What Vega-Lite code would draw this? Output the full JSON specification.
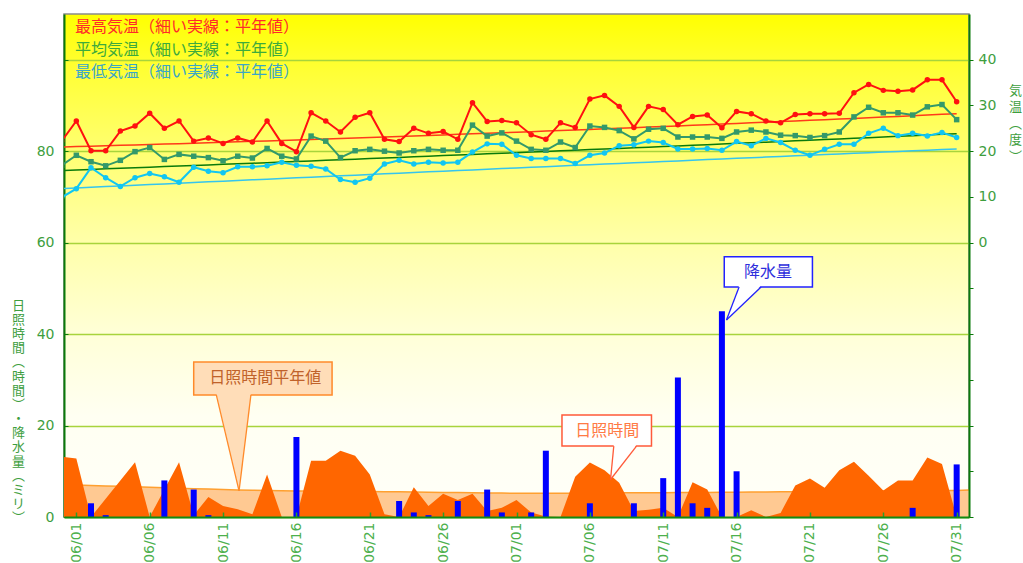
{
  "$schema": "https://vega.github.io/schema/vega-lite/v6.json",
  "width": 905,
  "height": 503,
  "autosize": {"type": "none"},
  "padding": {"left": 64, "top": 14, "right": 54, "bottom": 46},
  "background": "#FFFFFF",
  "config": {
    "font": "Noto Sans CJK JP",
    "view": {
      "stroke": "#8A8A8A",
      "strokeWidth": 1.5,
      "fill": {
        "gradient": "linear", "x1": 0, "y1": 0, "x2": 0, "y2": 1,
        "stops": [
          {"offset": 0, "color": "#FFFF00"},
          {"offset": 0.1, "color": "#FFFF30"},
          {"offset": 0.27, "color": "#FFFF70"},
          {"offset": 0.45, "color": "#FFFFA8"},
          {"offset": 0.64, "color": "#FFFFD8"},
          {"offset": 0.8, "color": "#FFFFF2"},
          {"offset": 1, "color": "#FFFFF8"}
        ]
      }
    }
  },
  "datasets": {
    "daily": [
      {"day": -1, "最高気温": 22.2, "平均気温": 16.9, "最低気温": 9.9, "maxNormal": 20.91, "meanNormal": 15.78, "minNormal": 11.8, "sun": 13.2, "sunNormal": 7.1},
      {"day": 0, "最高気温": 26.6, "平均気温": 19.1, "最低気温": 11.8, "maxNormal": 21.0, "meanNormal": 15.9, "minNormal": 11.95, "sun": 12.8, "sunNormal": 7.0},
      {"day": 1, "最高気温": 20.1, "平均気温": 17.7, "最低気温": 16.4, "maxNormal": 21.09, "meanNormal": 16.02, "minNormal": 12.1, "sun": 0.0, "sunNormal": 6.9, "rain": 3.0},
      {"day": 2, "最高気温": 20.1, "平均気温": 16.8, "最低気温": 14.2, "maxNormal": 21.18, "meanNormal": 16.14, "minNormal": 12.25, "sun": 4.0, "sunNormal": 6.8, "rain": 0.4},
      {"day": 3, "最高気温": 24.4, "平均気温": 18.0, "最低気温": 12.3, "maxNormal": 21.27, "meanNormal": 16.26, "minNormal": 12.4, "sun": 8.0, "sunNormal": 6.7},
      {"day": 4, "最高気温": 25.5, "平均気温": 19.9, "最低気温": 14.2, "maxNormal": 21.37, "meanNormal": 16.38, "minNormal": 12.55, "sun": 12.0, "sunNormal": 6.6},
      {"day": 5, "最高気温": 28.3, "平均気温": 20.8, "最低気温": 15.1, "maxNormal": 21.46, "meanNormal": 16.51, "minNormal": 12.7, "sun": 0.0, "sunNormal": 6.5},
      {"day": 6, "最高気温": 25.0, "平均気温": 18.2, "最低気温": 14.4, "maxNormal": 21.56, "meanNormal": 16.63, "minNormal": 12.85, "sun": 6.0, "sunNormal": 6.4, "rain": 8.0},
      {"day": 7, "最高気温": 26.6, "平均気温": 19.3, "最低気温": 13.2, "maxNormal": 21.65, "meanNormal": 16.75, "minNormal": 12.99, "sun": 12.0, "sunNormal": 6.3},
      {"day": 8, "最高気温": 22.2, "平均気温": 18.9, "最低気温": 16.5, "maxNormal": 21.75, "meanNormal": 16.87, "minNormal": 13.14, "sun": 0.4, "sunNormal": 6.2, "rain": 6.0},
      {"day": 9, "最高気温": 22.9, "平均気温": 18.6, "最低気温": 15.6, "maxNormal": 21.85, "meanNormal": 17.0, "minNormal": 13.29, "sun": 4.4, "sunNormal": 6.1, "rain": 0.4},
      {"day": 10, "最高気温": 21.7, "平均気温": 17.9, "最低気温": 15.3, "maxNormal": 21.95, "meanNormal": 17.12, "minNormal": 13.44, "sun": 2.4, "sunNormal": 6.0},
      {"day": 11, "最高気温": 22.9, "平均気温": 18.9, "最低気温": 16.6, "maxNormal": 22.05, "meanNormal": 17.24, "minNormal": 13.59, "sun": 1.7, "sunNormal": 5.9},
      {"day": 12, "最高気温": 22.0, "平均気温": 18.5, "最低気温": 16.6, "maxNormal": 22.15, "meanNormal": 17.37, "minNormal": 13.73, "sun": 0.6, "sunNormal": 5.85},
      {"day": 13, "最高気温": 26.6, "平均気温": 20.6, "最低気温": 16.8, "maxNormal": 22.25, "meanNormal": 17.49, "minNormal": 13.88, "sun": 9.3, "sunNormal": 5.8},
      {"day": 14, "最高気温": 21.7, "平均気温": 18.9, "最低気温": 17.6, "maxNormal": 22.36, "meanNormal": 17.62, "minNormal": 14.02, "sun": 0.0, "sunNormal": 5.75},
      {"day": 15, "最高気温": 19.9, "平均気温": 18.3, "最低気温": 16.9, "maxNormal": 22.46, "meanNormal": 17.75, "minNormal": 14.17, "sun": 0.0, "sunNormal": 5.7, "rain": 17.5},
      {"day": 16, "最高気温": 28.4, "平均気温": 23.3, "最低気温": 16.7, "maxNormal": 22.57, "meanNormal": 17.87, "minNormal": 14.32, "sun": 12.3, "sunNormal": 5.68},
      {"day": 17, "最高気温": 26.6, "平均気温": 22.2, "最低気温": 16.1, "maxNormal": 22.68, "meanNormal": 18.0, "minNormal": 14.46, "sun": 12.3, "sunNormal": 5.65},
      {"day": 18, "最高気温": 24.2, "平均気温": 18.6, "最低気温": 13.8, "maxNormal": 22.78, "meanNormal": 18.12, "minNormal": 14.61, "sun": 14.5, "sunNormal": 5.62},
      {"day": 19, "最高気温": 27.4, "平均気温": 20.1, "最低気温": 13.2, "maxNormal": 22.89, "meanNormal": 18.25, "minNormal": 14.75, "sun": 13.4, "sunNormal": 5.6},
      {"day": 20, "最高気温": 28.4, "平均気温": 20.4, "最低気温": 14.1, "maxNormal": 23.0, "meanNormal": 18.38, "minNormal": 14.9, "sun": 9.3, "sunNormal": 5.55},
      {"day": 21, "最高気温": 22.6, "平均気温": 20.0, "最低気温": 17.2, "maxNormal": 23.11, "meanNormal": 18.51, "minNormal": 15.04, "sun": 0.6, "sunNormal": 5.52},
      {"day": 22, "最高気温": 22.1, "平均気温": 19.6, "最低気温": 18.0, "maxNormal": 23.22, "meanNormal": 18.64, "minNormal": 15.19, "sun": 0.0, "sunNormal": 5.5, "rain": 3.5},
      {"day": 23, "最高気温": 25.0, "平均気温": 20.1, "最低気温": 17.2, "maxNormal": 23.33, "meanNormal": 18.77, "minNormal": 15.33, "sun": 6.5, "sunNormal": 5.46, "rain": 1.0},
      {"day": 24, "最高気温": 23.9, "平均気温": 20.4, "最低気温": 17.6, "maxNormal": 23.45, "meanNormal": 18.9, "minNormal": 15.48, "sun": 2.4, "sunNormal": 5.42, "rain": 0.4},
      {"day": 25, "最高気温": 24.3, "平均気温": 20.2, "最低気温": 17.4, "maxNormal": 23.56, "meanNormal": 19.03, "minNormal": 15.62, "sun": 5.1, "sunNormal": 5.38},
      {"day": 26, "最高気温": 22.6, "平均気温": 20.2, "最低気温": 17.6, "maxNormal": 23.68, "meanNormal": 19.16, "minNormal": 15.76, "sun": 3.7, "sunNormal": 5.35, "rain": 3.5},
      {"day": 27, "最高気温": 30.6, "平均気温": 25.7, "最低気温": 19.8, "maxNormal": 23.79, "meanNormal": 19.29, "minNormal": 15.91, "sun": 5.1, "sunNormal": 5.3},
      {"day": 28, "最高気温": 26.5, "平均気温": 23.3, "最低気温": 21.6, "maxNormal": 23.91, "meanNormal": 19.42, "minNormal": 16.05, "sun": 1.3, "sunNormal": 5.27, "rain": 6.0},
      {"day": 29, "最高気温": 26.7, "平均気温": 24.0, "最低気温": 21.5, "maxNormal": 24.03, "meanNormal": 19.55, "minNormal": 16.19, "sun": 2.0, "sunNormal": 5.23, "rain": 1.0},
      {"day": 30, "最高気温": 26.2, "平均気温": 22.2, "最低気温": 19.1, "maxNormal": 24.15, "meanNormal": 19.68, "minNormal": 16.33, "sun": 3.7, "sunNormal": 5.2},
      {"day": 31, "最高気温": 23.6, "平均気温": 20.4, "最低気温": 18.4, "maxNormal": 24.27, "meanNormal": 19.81, "minNormal": 16.48, "sun": 1.0, "sunNormal": 5.2, "rain": 1.0},
      {"day": 32, "最高気温": 22.6, "平均気温": 20.2, "最低気温": 18.4, "maxNormal": 24.39, "meanNormal": 19.94, "minNormal": 16.62, "sun": 0.1, "sunNormal": 5.2, "rain": 14.5},
      {"day": 33, "最高気温": 26.2, "平均気温": 22.0, "最低気温": 18.4, "maxNormal": 24.51, "meanNormal": 20.08, "minNormal": 16.76, "sun": 0.0, "sunNormal": 5.2},
      {"day": 34, "最高気温": 25.2, "平均気温": 20.8, "最低気温": 17.3, "maxNormal": 24.64, "meanNormal": 20.21, "minNormal": 16.9, "sun": 8.8, "sunNormal": 5.22},
      {"day": 35, "最高気温": 31.4, "平均気温": 25.5, "最低気温": 19.1, "maxNormal": 24.76, "meanNormal": 20.35, "minNormal": 17.04, "sun": 11.9, "sunNormal": 5.24, "rain": 3.0},
      {"day": 36, "最高気温": 32.2, "平均気温": 25.2, "最低気温": 19.6, "maxNormal": 24.89, "meanNormal": 20.48, "minNormal": 17.18, "sun": 10.2, "sunNormal": 5.26},
      {"day": 37, "最高気温": 29.8, "平均気温": 24.5, "最低気温": 21.2, "maxNormal": 25.01, "meanNormal": 20.61, "minNormal": 17.32, "sun": 7.5, "sunNormal": 5.28},
      {"day": 38, "最高気温": 25.2, "平均気温": 22.7, "最低気温": 21.4, "maxNormal": 25.14, "meanNormal": 20.75, "minNormal": 17.46, "sun": 1.3, "sunNormal": 5.3, "rain": 3.0},
      {"day": 39, "最高気温": 29.8, "平均気温": 24.8, "最低気温": 22.2, "maxNormal": 25.27, "meanNormal": 20.88, "minNormal": 17.6, "sun": 1.6, "sunNormal": 5.3},
      {"day": 40, "最高気温": 29.1, "平均気温": 25.0, "最低気温": 21.9, "maxNormal": 25.4, "meanNormal": 21.02, "minNormal": 17.74, "sun": 2.0, "sunNormal": 5.32, "rain": 8.5},
      {"day": 41, "最高気温": 25.8, "平均気温": 23.1, "最低気温": 20.5, "maxNormal": 25.53, "meanNormal": 21.16, "minNormal": 17.88, "sun": 0.0, "sunNormal": 5.34, "rain": 30.5},
      {"day": 42, "最高気温": 27.6, "平均気温": 23.1, "最低気温": 20.5, "maxNormal": 25.66, "meanNormal": 21.29, "minNormal": 18.02, "sun": 7.6, "sunNormal": 5.36, "rain": 3.0},
      {"day": 43, "最高気温": 27.9, "平均気温": 23.1, "最低気温": 20.6, "maxNormal": 25.79, "meanNormal": 21.43, "minNormal": 18.16, "sun": 6.0, "sunNormal": 5.38, "rain": 2.0},
      {"day": 44, "最高気温": 25.1, "平均気温": 22.8, "最低気温": 20.2, "maxNormal": 25.93, "meanNormal": 21.57, "minNormal": 18.3, "sun": 0.0, "sunNormal": 5.4, "rain": 45.0},
      {"day": 45, "最高気温": 28.7, "平均気温": 24.2, "最低気温": 22.1, "maxNormal": 26.06, "meanNormal": 21.71, "minNormal": 18.44, "sun": 0.0, "sunNormal": 5.42, "rain": 10.0},
      {"day": 46, "最高気温": 28.2, "平均気温": 24.6, "最低気温": 21.2, "maxNormal": 26.2, "meanNormal": 21.84, "minNormal": 18.57, "sun": 1.5, "sunNormal": 5.45},
      {"day": 47, "最高気温": 26.6, "平均気温": 24.2, "最低気温": 22.8, "maxNormal": 26.33, "meanNormal": 21.98, "minNormal": 18.71, "sun": 0.0, "sunNormal": 5.48},
      {"day": 48, "最高気温": 26.2, "平均気温": 23.5, "最低気温": 21.9, "maxNormal": 26.47, "meanNormal": 22.12, "minNormal": 18.85, "sun": 0.9, "sunNormal": 5.5},
      {"day": 49, "最高気温": 28.0, "平均気温": 23.4, "最低気温": 20.2, "maxNormal": 26.61, "meanNormal": 22.26, "minNormal": 18.99, "sun": 6.9, "sunNormal": 5.52},
      {"day": 50, "最高気温": 28.2, "平均気温": 23.0, "最低気温": 19.1, "maxNormal": 26.75, "meanNormal": 22.4, "minNormal": 19.13, "sun": 8.4, "sunNormal": 5.55},
      {"day": 51, "最高気温": 28.2, "平均気温": 23.4, "最低気温": 20.4, "maxNormal": 26.89, "meanNormal": 22.54, "minNormal": 19.26, "sun": 6.4, "sunNormal": 5.57},
      {"day": 52, "最高気温": 28.3, "平均気温": 24.2, "最低気温": 21.5, "maxNormal": 27.03, "meanNormal": 22.68, "minNormal": 19.4, "sun": 10.2, "sunNormal": 5.6},
      {"day": 53, "最高気温": 32.8, "平均気温": 27.5, "最低気温": 21.5, "maxNormal": 27.17, "meanNormal": 22.82, "minNormal": 19.53, "sun": 12.1, "sunNormal": 5.62},
      {"day": 54, "最高気温": 34.6, "平均気温": 29.6, "最低気温": 23.9, "maxNormal": 27.32, "meanNormal": 22.96, "minNormal": 19.67, "sun": 9.0, "sunNormal": 5.65},
      {"day": 55, "最高気温": 33.3, "平均気温": 28.4, "最低気温": 25.0, "maxNormal": 27.46, "meanNormal": 23.11, "minNormal": 19.81, "sun": 5.8, "sunNormal": 5.67},
      {"day": 56, "最高気温": 33.1, "平均気温": 28.4, "最低気温": 23.4, "maxNormal": 27.61, "meanNormal": 23.25, "minNormal": 19.94, "sun": 8.0, "sunNormal": 5.7},
      {"day": 57, "最高気温": 33.4, "平均気温": 27.9, "最低気温": 23.9, "maxNormal": 27.75, "meanNormal": 23.39, "minNormal": 20.08, "sun": 8.0, "sunNormal": 5.72, "rain": 2.0},
      {"day": 58, "最高気温": 35.6, "平均気温": 29.7, "最低気温": 23.3, "maxNormal": 27.9, "meanNormal": 23.53, "minNormal": 20.21, "sun": 13.0, "sunNormal": 5.75},
      {"day": 59, "最高気温": 35.6, "平均気温": 30.2, "最低気温": 24.1, "maxNormal": 28.05, "meanNormal": 23.68, "minNormal": 20.35, "sun": 11.6, "sunNormal": 5.77},
      {"day": 60, "最高気温": 30.8, "平均気温": 26.9, "最低気温": 23.0, "maxNormal": 28.2, "meanNormal": 23.82, "minNormal": 20.48, "sun": 0.0, "sunNormal": 5.8, "rain": 11.5},
      {"day": 61, "sunNormal": 5.9}
    ],
    "callouts": [
      {"id": "normal", "label": "日照時間平年値", "x1": 8.0, "x2": 17.43, "y1": 26.7, "y2": 33.9, "tx": 12.88, "ty": 30.4},
      {"id": "sun", "label": "日照時間", "x1": 33.1, "x2": 39.2, "y1": 15.5, "y2": 22.3, "tx": 36.18, "ty": 18.7},
      {"id": "rain", "label": "降水量", "x1": 44.16, "x2": 50.17, "y1": 50.3, "y2": 56.9, "tx": 47.14, "ty": 53.6}
    ],
    "pointers": [
      {"id": "normal", "x": 9.54, "top": 27.0, "bottom": 27.0},
      {"id": "normal", "x": 11.09, "top": 27.0, "bottom": 5.7},
      {"id": "normal", "x": 11.9, "top": 27.0, "bottom": 27.0},
      {"id": "sun", "x": 36.41, "top": 8.2, "bottom": 8.2},
      {"id": "sun", "x": 36.63, "top": 15.8, "bottom": 9.11},
      {"id": "sun", "x": 38.18, "top": 15.8, "bottom": 15.8},
      {"id": "rain", "x": 44.31, "top": 43.1, "bottom": 43.1},
      {"id": "rain", "x": 45.17, "top": 50.6, "bottom": 45.72},
      {"id": "rain", "x": 46.67, "top": 50.6, "bottom": 50.6}
    ],
    "edges": [
      {"id": "normal", "x": 9.54, "y": 26.7, "x2": 11.09, "y2": 5.7},
      {"id": "normal", "x": 11.9, "y": 26.7, "x2": 11.09, "y2": 5.7},
      {"id": "sun", "x": 36.63, "y": 15.5, "x2": 36.41, "y2": 8.2},
      {"id": "sun", "x": 38.18, "y": 15.5, "x2": 36.41, "y2": 8.2},
      {"id": "rain", "x": 45.17, "y": 50.3, "x2": 44.31, "y2": 43.1},
      {"id": "rain", "x": 46.67, "y": 50.3, "x2": 44.31, "y2": 43.1}
    ]
  },
  "resolve": {"scale": {"y": "independent", "color": "independent"}},
  "layer": [
    {
      "layer": [
        {
          "data": {"name": "daily"},
          "mark": {"type": "area", "color": "#FFC992", "clip": true},
          "encoding": {
            "x": {
              "field": "day", "type": "quantitative",
              "scale": {"domain": [-0.5, 60.5], "nice": false, "zero": false},
              "axis": {
                "orient": "bottom", "title": null,
                "values": [0, 5, 10, 15, 20, 25, 30, 35, 40, 45, 50, 55, 60],
                "labelExpr": "utcFormat(utc(2023, 5, 1 + datum.value), '%m/%d')",
                "labelAngle": 270, "labelAlign": "right", "labelBaseline": "middle",
                "labelFont": "DejaVu Sans", "labelFontSize": 14, "labelColor": "#4DB04D", "labelPadding": 10,
                "domainColor": "#128A12", "domainWidth": 2,
                "tickColor": "#2AA02A", "tickSize": -5, "tickWidth": 1.5,
                "grid": false, "zindex": 1
              }
            },
            "y": {
              "field": "sunNormal", "type": "quantitative",
              "scale": {"domain": [0, 110], "nice": false, "zero": false},
              "axis": {
                "orient": "left",
                "values": [0, 20, 40, 60, 80, 100],
                "labelExpr": "datum.value <= 80 ? datum.label : ''",
                "grid": true, "gridColor": "#A8D43C", "gridWidth": 1.5,
                "domainColor": "#0A7A0A", "domainWidth": 2,
                "tickColor": "#0A7A0A", "tickSize": -4,
                "labelFont": "DejaVu Sans", "labelColor": "#3E9E3E", "labelFontSize": 14, "labelPadding": 14,
                "title": ["日", "照", "時", "間", "︵", "時", "間", "︶", "・", "降", "水", "量", "︵", "ミ", "リ", "︶"],
                "titleColor": "#3E9E3E", "titleFontSize": 13, "titleFontWeight": "normal",
                "titleAngle": 0, "titleAlign": "center", "titleBaseline": "top",
                "titleX": -46, "titleY": 285, "titleLineHeight": 14.2
              }
            }
          }
        },
        {
          "data": {"name": "daily"},
          "mark": {"type": "line", "color": "#FFA030", "strokeWidth": 1.5, "clip": true},
          "encoding": {
            "x": {"field": "day", "type": "quantitative"},
            "y": {"field": "sunNormal", "type": "quantitative"}
          }
        },
        {
          "data": {"name": "daily"},
          "mark": {"type": "area", "color": "#FF6600", "clip": true},
          "encoding": {
            "x": {"field": "day", "type": "quantitative"},
            "y": {"field": "sun", "type": "quantitative"}
          }
        },
        {
          "data": {"name": "daily"},
          "mark": {"type": "bar", "color": "#0000FF", "size": 6, "clip": true},
          "encoding": {
            "x": {"field": "day", "type": "quantitative"},
            "y": {"field": "rain", "type": "quantitative"}
          }
        },
        {
          "data": {"name": "callouts"},
          "mark": {"type": "rect", "strokeWidth": 1.5},
          "encoding": {
            "x": {"field": "x1", "type": "quantitative"},
            "x2": {"field": "x2"},
            "y": {"field": "y1", "type": "quantitative"},
            "y2": {"field": "y2"},
            "fill": {"field": "id", "type": "nominal", "legend": null, "scale": {"domain": ["normal", "sun", "rain"], "range": ["#FFDDB8", "#FFFFFF", "#FFFFFF"]}},
            "stroke": {"field": "id", "type": "nominal", "legend": null, "scale": {"domain": ["normal", "sun", "rain"], "range": ["#FF8A2A", "#FF5A3A", "#2222FF"]}}
          }
        },
        {
          "data": {"name": "pointers"},
          "mark": {"type": "area", "opacity": 1},
          "encoding": {
            "x": {"field": "x", "type": "quantitative"},
            "y": {"field": "top", "type": "quantitative"},
            "y2": {"field": "bottom"},
            "fill": {"field": "id", "type": "nominal", "legend": null}
          }
        },
        {
          "data": {"name": "edges"},
          "mark": {"type": "rule", "strokeWidth": 1.3},
          "encoding": {
            "x": {"field": "x", "type": "quantitative"},
            "y": {"field": "y", "type": "quantitative"},
            "x2": {"field": "x2"},
            "y2": {"field": "y2"},
            "stroke": {"field": "id", "type": "nominal", "legend": null}
          }
        },
        {
          "data": {"name": "callouts"},
          "mark": {"type": "text", "fontSize": 16, "align": "center", "baseline": "middle"},
          "encoding": {
            "x": {"field": "tx", "type": "quantitative"},
            "y": {"field": "ty", "type": "quantitative"},
            "text": {"field": "label"},
            "color": {"field": "id", "type": "nominal", "legend": null, "scale": {"domain": ["normal", "sun", "rain"], "range": ["#C0622A", "#FF7A45", "#2E2EDC"]}}
          }
        }
      ]
    },
    {
      "layer": [
        {
          "data": {"name": "daily"},
          "mark": {"type": "line", "color": "#FF3A1A", "strokeWidth": 1.5, "clip": true},
          "encoding": {
            "x": {"field": "day", "type": "quantitative"},
            "y": {
              "field": "maxNormal", "type": "quantitative",
              "scale": {"domain": [-60, 50], "nice": false, "zero": false},
              "axis": {
                "orient": "right",
                "values": [-60, -50, -40, -30, -20, -10, 0, 10, 20, 30, 40],
                "labelExpr": "datum.value >= 0 ? datum.label : ''",
                "grid": false,
                "domainColor": "#0A7A0A", "domainWidth": 2,
                "tickColor": "#0A7A0A", "tickSize": 4,
                "labelFont": "DejaVu Sans", "labelColor": "#3E9E3E", "labelFontSize": 14, "labelPadding": 5,
                "title": ["気", "温", "︵", "度", "︶"],
                "titleColor": "#3E9E3E", "titleFontSize": 13, "titleFontWeight": "normal",
                "titleAngle": 0, "titleAlign": "center", "titleBaseline": "top",
                "titleX": 46, "titleY": 70, "titleLineHeight": 16.5,
                "zindex": 1
              }
            }
          }
        },
        {
          "data": {"name": "daily"},
          "mark": {"type": "line", "color": "#0A7A0A", "strokeWidth": 1.5, "clip": true},
          "encoding": {
            "x": {"field": "day", "type": "quantitative"},
            "y": {"field": "meanNormal", "type": "quantitative"}
          }
        },
        {
          "data": {"name": "daily"},
          "mark": {"type": "line", "color": "#35C5EE", "strokeWidth": 1.5, "clip": true},
          "encoding": {
            "x": {"field": "day", "type": "quantitative"},
            "y": {"field": "minNormal", "type": "quantitative"}
          }
        },
        {
          "data": {"name": "daily"},
          "transform": [{"fold": ["最高気温", "平均気温", "最低気温"], "as": ["系列", "気温"]}],
          "mark": {"type": "line", "strokeWidth": 2, "clip": true},
          "encoding": {
            "x": {"field": "day", "type": "quantitative"},
            "y": {"field": "気温", "type": "quantitative"},
            "color": {
              "field": "系列", "type": "nominal",
              "scale": {"domain": ["最高気温", "平均気温", "最低気温"], "range": ["#FF1010", "#33996A", "#11C6F2"]},
              "legend": {
                "orient": "none", "legendX": -8, "legendY": 5, "title": null,
                "labelExpr": "datum.label + '（細い実線：平年値）'",
                "labelFontSize": 16, "labelFont": "Noto Sans CJK JP", "labelLimit": 0,
                "symbolSize": 0, "symbolOpacity": 0, "symbolStrokeWidth": 0,
                "rowPadding": 6.5, "labelOffset": 3, "padding": 0,
                "encode": {"labels": {"update": {"fill": {"signal": "datum.value === '最高気温' ? '#FF2A2A' : datum.value === '平均気温' ? '#3DAA3D' : '#3AA6C8'"}}}}
              }
            }
          }
        },
        {
          "data": {"name": "daily"},
          "transform": [{"fold": ["最高気温", "平均気温", "最低気温"], "as": ["系列", "気温"]}],
          "mark": {"type": "point", "filled": true, "opacity": 1, "size": 30, "clip": true},
          "encoding": {
            "x": {"field": "day", "type": "quantitative"},
            "y": {"field": "気温", "type": "quantitative"},
            "color": {"field": "系列", "type": "nominal", "legend": null},
            "shape": {"field": "系列", "type": "nominal", "legend": null, "scale": {"domain": ["最高気温", "平均気温", "最低気温"], "range": ["circle", "square", "circle"]}}
          }
        }
      ]
    }
  ]
}
